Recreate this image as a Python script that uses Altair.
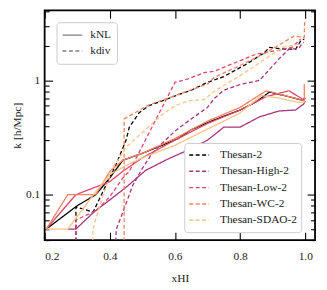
import altair as alt
import pandas as pd

sims = ["Thesan-2", "Thesan-High-2", "Thesan-Low-2", "Thesan-WC-2", "Thesan-SDAO-2"]
colors = ["#000000", "#a8327d", "#e0466d", "#f7815f", "#fec287"]
kinds = ["kNL", "kdiv"]

# k_NL (solid)
nl_x = {
    "Thesan-2": [0.205, 0.30, 0.357, 0.40, 0.44, 0.50, 0.56, 0.61, 0.65, 0.72, 0.80, 0.85, 0.89, 0.95, 0.99, 1.0],
    "Thesan-High-2": [0.271, 0.296, 0.35, 0.40, 0.45, 0.51, 0.58, 0.66, 0.70, 0.73, 0.75, 0.80, 0.86, 0.92, 0.97, 0.995, 1.0],
    "Thesan-Low-2": [0.205, 0.296, 0.40, 0.44, 0.50, 0.60, 0.70, 0.80, 0.88, 0.95, 0.99, 1.0],
    "Thesan-WC-2": [0.205, 0.271, 0.357, 0.40, 0.44, 0.50, 0.60, 0.70, 0.80, 0.88, 0.976, 0.997, 0.997],
    "Thesan-SDAO-2": [0.205, 0.271, 0.35, 0.40, 0.45, 0.50, 0.60, 0.67, 0.75, 0.80, 0.865, 0.92, 0.98, 1.0],
}
nl_k = {
    "Thesan-2": [0.05, 0.08, 0.10, 0.14, 0.20, 0.23, 0.27, 0.31, 0.37, 0.45, 0.55, 0.65, 0.79, 0.72, 0.67, 0.70],
    "Thesan-High-2": [0.05, 0.05, 0.07, 0.09, 0.116, 0.163, 0.206, 0.26, 0.30, 0.35, 0.39, 0.39, 0.48, 0.54, 0.55, 0.62, 0.66],
    "Thesan-Low-2": [0.05, 0.10, 0.13, 0.16, 0.21, 0.30, 0.42, 0.55, 0.72, 0.81, 0.69, 0.68],
    "Thesan-WC-2": [0.05, 0.10, 0.10, 0.16, 0.20, 0.23, 0.31, 0.44, 0.58, 0.81, 0.69, 0.66, 0.93],
    "Thesan-SDAO-2": [0.05, 0.05, 0.10, 0.15, 0.18, 0.21, 0.27, 0.34, 0.44, 0.52, 0.735, 0.70, 0.64, 0.65],
}
# k_div (dashed)
div_x = {
    "Thesan-2": [0.296, 0.296, 0.349, 0.38, 0.42, 0.45, 0.46, 0.49, 0.52, 0.56, 0.60, 0.65, 0.70, 0.75, 0.82, 0.875, 0.89, 0.936, 0.971, 0.986, 0.997],
    "Thesan-High-2": [0.416, 0.42, 0.44, 0.47, 0.50, 0.53, 0.56, 0.60, 0.65, 0.70, 0.72, 0.75, 0.80, 0.86, 0.92, 0.95, 0.98, 0.99, 0.995],
    "Thesan-Low-2": [0.296, 0.296, 0.36, 0.40, 0.44, 0.46, 0.60, 0.64, 0.69, 0.72, 0.85, 0.92, 0.96, 0.986],
    "Thesan-WC-2": [0.444, 0.444, 0.52, 0.60, 0.70, 0.72, 0.80, 0.88, 0.966, 0.997, 0.998],
    "Thesan-SDAO-2": [0.348, 0.348, 0.38, 0.41, 0.45, 0.49, 0.56, 0.60, 0.64, 0.69, 0.72, 0.80, 0.87, 0.93, 0.99],
}
div_k = {
    "Thesan-2": [0.03, 0.078, 0.0705, 0.108, 0.186, 0.30, 0.39, 0.52, 0.60, 0.66, 0.73, 0.82, 0.96, 1.08, 1.39, 1.75, 1.94, 1.88, 1.88, 2.22, 2.3],
    "Thesan-High-2": [0.03, 0.05, 0.07, 0.12, 0.17, 0.23, 0.28, 0.36, 0.46, 0.58, 0.69, 0.82, 0.92, 1.0, 1.55, 1.88, 1.9, 2.1, 2.15],
    "Thesan-Low-2": [0.03, 0.06, 0.073, 0.096, 0.14, 0.16, 0.96, 1.03, 1.17, 1.2, 1.7, 1.84, 1.95, 2.3],
    "Thesan-WC-2": [0.03, 0.46, 0.61, 0.735, 0.93, 1.06, 1.35, 1.75, 2.45, 2.37, 3.3],
    "Thesan-SDAO-2": [0.03, 0.05, 0.10, 0.174, 0.26, 0.33, 0.50, 0.60, 0.66, 0.68, 0.80, 1.1, 1.49, 1.94, 2.1],
}

x_ticks = [0.2, 0.4, 0.6, 0.8, 1.0]
y_ticks = [0.04, 0.05, 0.06, 0.07, 0.08, 0.09, 0.1, 0.2, 0.3, 0.4, 0.5, 0.6, 0.7, 0.8, 0.9, 1, 2, 3, 4]

rows = []
for s in sims:
    for i, (xv, kv) in enumerate(zip(nl_x[s], nl_k[s])):
        rows.append({"sim": s, "kind": "kNL", "x": xv, "k": kv, "i": i})
    for i, (xv, kv) in enumerate(zip(div_x[s], div_k[s])):
        rows.append({"sim": s, "kind": "kdiv", "x": xv, "k": kv, "i": i})
df = pd.DataFrame(rows)

FONT = "'Liberation Serif', 'DejaVu Serif', serif"
major_y = "(abs(datum.value-1)<1e-9 || abs(datum.value-0.1)<1e-9) ? -8 : -4.5"

xscale = alt.Scale(domain=[0.2, 1.03], nice=False, zero=False)
yscale = alt.Scale(type="log", domain=[0.04, 4.1], nice=False)

lines = alt.Chart(df).mark_line(strokeWidth=1.3, clip=True).encode(
    x=alt.X("x:Q", scale=xscale,
            axis=alt.Axis(orient="bottom", values=x_ticks, format=".1f", title="xHI",
                          tickSize=alt.ExprRef(expr="-8"), labelPadding=19, titlePadding=10)),
    y=alt.Y("k:Q", scale=yscale,
            axis=alt.Axis(orient="left", values=y_ticks, title="k [h/Mpc]",
                          labelExpr="abs(datum.value-1)<1e-9 ? '1' : (abs(datum.value-0.1)<1e-9 ? '0.1' : '')",
                          tickSize=alt.ExprRef(expr=major_y), labelPadding=13, titlePadding=3)),
    color=alt.Color("sim:N", scale=alt.Scale(domain=sims, range=colors),
                    legend=alt.Legend(orient="none", legendX=141, legendY=134, title=None,
                                      symbolType="stroke", symbolDash=[4, 2.5], symbolStrokeWidth=1.4,
                                      symbolSize=400, clipHeight=16, rowPadding=0.5, labelOffset=10,
                                      fillColor="white", strokeColor="#cccccc", cornerRadius=3, padding=4,
                                      labelFont=FONT, labelFontSize=11.5, labelColor="#222")),
    strokeDash=alt.StrokeDash("kind:N", scale=alt.Scale(domain=kinds, range=[[1, 0], [4, 2.5]]),
                              legend=alt.Legend(orient="none", legendX=12, legendY=12, title=None,
                                                symbolType="stroke", symbolStrokeColor="#808080",
                                                symbolStrokeWidth=1.4, symbolSize=400, clipHeight=16,
                                                rowPadding=0, labelOffset=7, fillColor="white",
                                                strokeColor="#cccccc", cornerRadius=3, padding=5,
                                                labelFont=FONT, labelFontSize=11.5, labelColor="#222")),
    detail="sim:N",
    order="i:Q",
)

mirror = alt.Chart(df).mark_point(opacity=0).encode(
    x=alt.X("x:Q", scale=xscale,
            axis=alt.Axis(orient="top", values=x_ticks, labels=False, title=None,
                          tickSize=alt.ExprRef(expr="-8"))),
    y=alt.Y("k:Q", scale=yscale,
            axis=alt.Axis(orient="right", values=y_ticks, labels=False, title=None,
                          tickSize=alt.ExprRef(expr=major_y))),
)

chart = alt.layer(lines, mirror).resolve_scale(x="shared", y="shared").resolve_axis(
    x="independent", y="independent"
).properties(
    width=273, height=232,
    autosize=alt.AutoSizeParams(type="none"),
    padding={"left": 37, "top": 1, "right": 4, "bottom": 49},
).configure_view(stroke="black", strokeWidth=1.8).configure_axis(
    domain=False, grid=False, tickColor="black", tickWidth=1.1,
    labelFont=FONT, labelFontSize=11.5, labelColor="#222",
    titleFont=FONT, titleFontSize=11.5, titleFontWeight="normal", titleColor="#222",
)

chart.save("out.html", embed_options={"renderer": "svg", "actions": False})
